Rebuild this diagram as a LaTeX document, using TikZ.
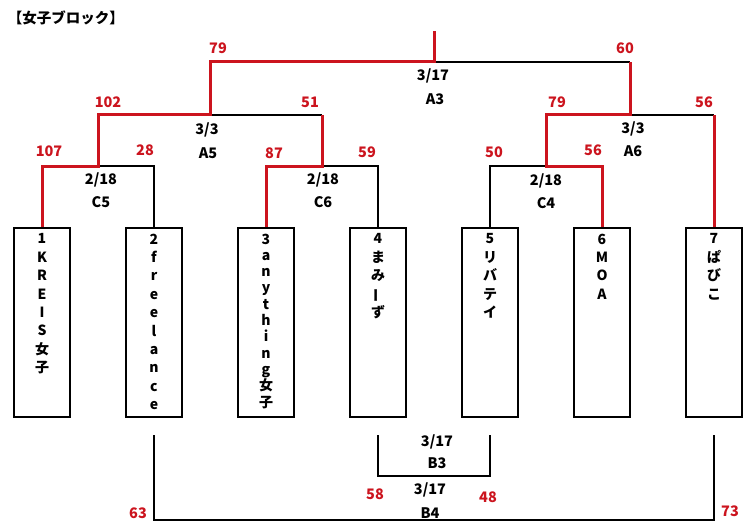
\documentclass[tikz,border=0pt]{standalone}
\usepackage{fontspec}
\setmainfont{Noto Sans CJK JP}
\usetikzlibrary{calc}
\definecolor{winred}{RGB}{204,20,30}
\begin{document}
\begin{tikzpicture}[x=1pt,y=-1pt,
  blk/.style={line width=2pt,black},
  win/.style={line width=3pt,winred},
  teambox/.style={draw,line width=2pt,minimum width=56pt,minimum height=189pt,inner sep=0pt},
  teamtext/.style={anchor=north,inner sep=0pt,align=center,font=\fontsize{14}{18.4}\selectfont\bfseries},
  score/.style={text=winred,font=\fontsize{14.5}{16}\selectfont\bfseries,inner sep=0pt},
  info/.style={text=black,font=\fontsize{14.5}{16}\selectfont\bfseries,inner sep=0pt}]
\useasboundingbox (0,0) rectangle (756,527);
\fill[white] (0,0) rectangle (756,527);
\node[info,font=\fontsize{14.5}{16}\selectfont\bfseries] (title) at (66,18) {【女子ブロック】};
% team boxes
\node[teambox] (t1) at (42,322.5) {};
\node[teambox] (t2) at (154,322.5) {};
\node[teambox] (t3) at (266,322.5) {};
\node[teambox] (t4) at (378,322.5) {};
\node[teambox] (t5) at (490,322.5) {};
\node[teambox] (t6) at (602,322.5) {};
\node[teambox] (t7) at (714,322.5) {};
\node[teamtext] (n1) at (42,233.5) {1\\K\\R\\E\\I\\S\\女\\子};
\node[teamtext] (n2) at (154,233.5) {2\\f\\r\\e\\e\\l\\a\\n\\c\\e};
\node[teamtext,font=\fontsize{14}{16.3}\selectfont\bfseries] (n3) at (266,233.5) {3\\a\\n\\y\\t\\h\\i\\n\\g\\女\\子};
\node[teamtext] (n4) at (378,233.5) {4\\ま\\み\\\rotatebox[origin=c]{90}{ー}\\ず};
\node[teamtext] (n5) at (490,233.5) {5\\リ\\バ\\テ\\イ};
\node[teamtext] (n6) at (602,233.5) {6\\M\\O\\A};
\node[teamtext] (n7) at (714,233.5) {7\\ぱ\\び\\こ};
% junctions
\coordinate (c5) at (98,166);
\coordinate (c6) at (322,166);
\coordinate (c4) at (546,166);
\coordinate (a5) at (210,115);
\coordinate (a6) at (630,115);
\coordinate (a3) at (434,62);
\coordinate (top) at (434,31);
\coordinate (b3l) at (378,435);
\coordinate (b3r) at (490,435);
\coordinate (b3m) at (434,476);
\coordinate (b4l) at (154,435);
\coordinate (b4r) at (714,435);
\coordinate (b4m) at (434,520);
% black connectors
\draw[blk] (t2.north) |- (c5);
\draw[blk] (t4.north) |- (c6);
\draw[blk] (t5.north) |- (c4);
\draw[blk] (c6 |- a5) -- (a5);
\draw[blk] (a3) -- (a6 |- a3);
\draw[blk] (a6) -- (t7.north |- a6);
\draw[blk] (b3l) |- (b3m) -| (b3r);
\draw[blk] (b4l) |- (b4m) -| (b4r);
% red (winner) connectors
\draw[win] (t1.north) |- (c5) -- (c5 |- a5) -- (a5) -- (a5 |- a3) -- (a3) -- (top);
\draw[win] (t3.north) |- (c6) -- (c6 |- a5);
\draw[win] (t6.north) |- (c4) -- (c4 |- a6) -- (a6) -- (a6 |- a3);
\draw[win] (t7.north) -- (t7.north |- a6);
% match info
\node[info] (a3d) at (433,76) {3/17};
\node[info] (a3n) at (435,99) {A3};
\node[info] (a5d) at (207,130) {3/3};
\node[info] (a5n) at (208,153) {A5};
\node[info] (a6d) at (633,129) {3/3};
\node[info] (a6n) at (633,151) {A6};
\node[info] (c5d) at (101,180) {2/18};
\node[info] (c5n) at (101,202) {C5};
\node[info] (c6d) at (323,180) {2/18};
\node[info] (c6n) at (323,202) {C6};
\node[info] (c4d) at (546,181) {2/18};
\node[info] (c4n) at (546,203) {C4};
\node[info] (b3d) at (437,442) {3/17};
\node[info] (b3n) at (437,463) {B3};
\node[info] (b4d) at (430,490) {3/17};
\node[info] (b4n) at (430,513) {B4};
% scores
\node[score] (s79a) at (218,48) {79};
\node[score] (s60) at (625,48) {60};
\node[score] (s102) at (108,102) {102};
\node[score] (s51) at (310,102) {51};
\node[score] (s79b) at (557,102) {79};
\node[score] (s56a) at (704,102) {56};
\node[score] (s107) at (49,151) {107};
\node[score] (s28) at (145,150) {28};
\node[score] (s87) at (274,153) {87};
\node[score] (s59) at (367,152) {59};
\node[score] (s50) at (494,152) {50};
\node[score] (s56b) at (593,150) {56};
\node[score] (s58) at (375,494) {58};
\node[score] (s48) at (488,497) {48};
\node[score] (s63) at (138,513) {63};
\node[score] (s73) at (730,511) {73};
\end{tikzpicture}
\end{document}
